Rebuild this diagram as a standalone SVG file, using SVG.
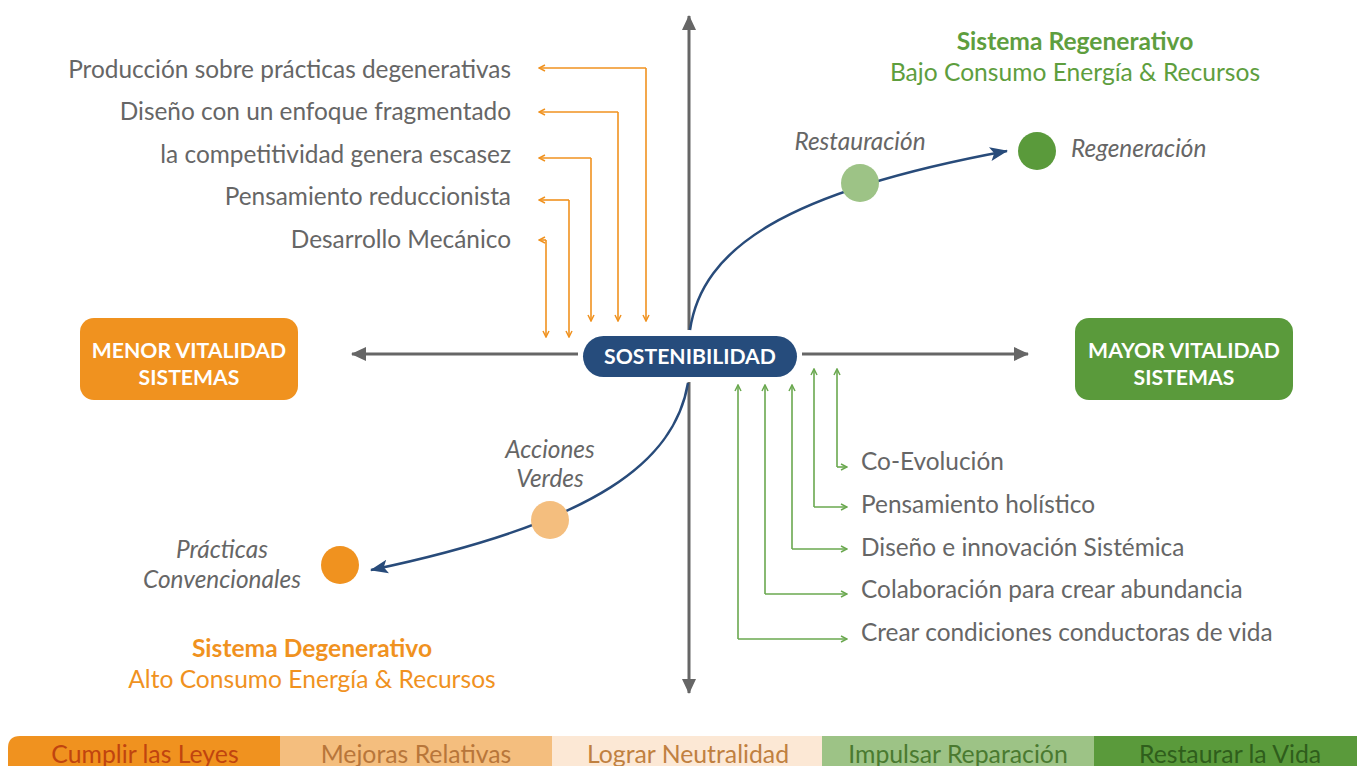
<svg xmlns="http://www.w3.org/2000/svg" width="1357" height="766" viewBox="0 0 1357 766">
<style>
.t{font-family:Lato,"Open Sans","Liberation Sans",sans-serif;font-size:24.4px;fill:#666}
.i{font-style:italic}
.b{font-weight:bold}
.w{fill:#fff;font-weight:bold;font-size:21.2px}
.ax{stroke:#666;stroke-width:3;fill:none}
.oc{stroke:#F0921F;stroke-width:1.6;fill:none}
.gc{stroke:#6AA84F;stroke-width:1.6;fill:none}
.cv{stroke:#284B7A;stroke-width:2.5;fill:none}
.bar{font-family:Lato,"Open Sans","Liberation Sans",sans-serif;font-size:24.8px;text-anchor:middle}
.tg{fill:#5E9E3E;font-size:24.6px}
.to{fill:#F0921F;font-size:24.6px}
</style>
<defs>
<marker id="ax" markerUnits="userSpaceOnUse" markerWidth="16" markerHeight="14" refX="14" refY="7" orient="auto"><path d="M0,0 L15,7 L0,14 Z" fill="#666"/></marker>
<marker id="oa" markerUnits="userSpaceOnUse" markerWidth="8" markerHeight="8" refX="7" refY="4" orient="auto"><path d="M1,1 L7,4 L1,7" fill="none" stroke="#F0921F" stroke-width="1.5"/></marker>
<marker id="ga" markerUnits="userSpaceOnUse" markerWidth="8" markerHeight="8" refX="7" refY="4" orient="auto"><path d="M1,1 L7,4 L1,7" fill="none" stroke="#6AA84F" stroke-width="1.5"/></marker>
<marker id="ba" markerUnits="userSpaceOnUse" markerWidth="20" markerHeight="16" refX="17" refY="8" orient="auto"><path d="M0,1 L18,8 L0,15 L4,8 Z" fill="#284B7A"/></marker>
</defs>
<g id="connectors">
<line class="ax" x1="689" y1="330" x2="689" y2="16" marker-end="url(#ax)"/>
<line class="ax" x1="689" y1="382" x2="689" y2="693" marker-end="url(#ax)"/>
<line class="ax" x1="578" y1="354" x2="352" y2="354" marker-end="url(#ax)"/>
<line class="ax" x1="802" y1="354" x2="1028" y2="354" marker-end="url(#ax)"/>
<path class="oc" d="M646,68 V321" marker-end="url(#oa)"/>
<path class="oc" d="M646,68 H539" marker-end="url(#oa)"/>
<path class="oc" d="M618,112 V321" marker-end="url(#oa)"/>
<path class="oc" d="M618,112 H539" marker-end="url(#oa)"/>
<path class="oc" d="M591,158 V321" marker-end="url(#oa)"/>
<path class="oc" d="M591,158 H539" marker-end="url(#oa)"/>
<path class="oc" d="M569,200 V337" marker-end="url(#oa)"/>
<path class="oc" d="M569,200 H539" marker-end="url(#oa)"/>
<path class="oc" d="M546,240 V337" marker-end="url(#oa)"/>
<path class="oc" d="M546,240 H539" marker-end="url(#oa)"/>
<path class="gc" d="M837,467 V369" marker-end="url(#ga)"/>
<path class="gc" d="M837,467 H847" marker-end="url(#ga)"/>
<path class="gc" d="M814,507 V369" marker-end="url(#ga)"/>
<path class="gc" d="M814,507 H847" marker-end="url(#ga)"/>
<path class="gc" d="M792,549 V385" marker-end="url(#ga)"/>
<path class="gc" d="M792,549 H847" marker-end="url(#ga)"/>
<path class="gc" d="M765,594 V385" marker-end="url(#ga)"/>
<path class="gc" d="M765,594 H847" marker-end="url(#ga)"/>
<path class="gc" d="M738,639 V385" marker-end="url(#ga)"/>
<path class="gc" d="M738,639 H847" marker-end="url(#ga)"/>
<path class="cv" d="M690,330 C702,248 785,192 1007,151" marker-end="url(#ba)"/>
<path class="cv" d="M688,383 C675,460 600,522 371,570" marker-end="url(#ba)"/>
</g>
<g id="sostenibilidad">
<rect x="583" y="336" width="214" height="41" rx="20.5" fill="#264C7C"/>
<text class="t w" x="690" y="364" text-anchor="middle">SOSTENIBILIDAD</text>
</g>
<g id="menor">
<rect x="80" y="318" width="218" height="82" rx="14" fill="#F0921F"/>
<text class="t w" x="189" y="358" text-anchor="middle">MENOR VITALIDAD</text>
<text class="t w" x="189" y="385" text-anchor="middle">SISTEMAS</text>
</g>
<g id="mayor">
<rect x="1075" y="318" width="218" height="82" rx="14" fill="#5A9A3B"/>
<text class="t w" x="1184" y="358" text-anchor="middle">MAYOR VITALIDAD</text>
<text class="t w" x="1184" y="385" text-anchor="middle">SISTEMAS</text>
</g>
<g id="left-list">
<text class="t" x="511" y="78" text-anchor="end">Producción sobre prácticas degenerativas</text>
<text class="t" x="511" y="120" text-anchor="end">Diseño con un enfoque fragmentado</text>
<text class="t" x="511" y="163" text-anchor="end">la competitividad genera escasez</text>
<text class="t" x="511" y="205" text-anchor="end">Pensamiento reduccionista</text>
<text class="t" x="511" y="248" text-anchor="end">Desarrollo Mecánico</text>
</g>
<g id="right-list">
<text class="t" x="861" y="470">Co-Evolución</text>
<text class="t" x="861" y="513">Pensamiento holístico</text>
<text class="t" x="861" y="556">Diseño e innovación Sistémica</text>
<text class="t" x="861" y="598">Colaboración para crear abundancia</text>
<text class="t" x="861" y="641">Crear condiciones conductoras de vida</text>
</g>
<g id="regenerativo">
<text class="t b tg" x="1075" y="50" text-anchor="middle">Sistema Regenerativo</text>
<text class="t tg" x="1075" y="81" text-anchor="middle">Bajo Consumo Energía &amp; Recursos</text>
</g>
<g id="degenerativo">
<text class="t b to" x="312" y="657" text-anchor="middle">Sistema Degenerativo</text>
<text class="t to" x="312" y="688" text-anchor="middle">Alto Consumo Energía &amp; Recursos</text>
</g>
<g id="restauracion">
<circle cx="860" cy="183" r="19" fill="#9DC386"/>
<text class="t i" x="860" y="150" text-anchor="middle">Restauración</text>
</g>
<g id="regeneracion">
<circle cx="1037" cy="151" r="19" fill="#5A9A3B"/>
<text class="t i" x="1071" y="157">Regeneración</text>
</g>
<g id="acciones-verdes">
<circle cx="550" cy="520" r="19" fill="#F4BE7E"/>
<text class="t i" x="550" y="458" text-anchor="middle">Acciones</text>
<text class="t i" x="550" y="487" text-anchor="middle">Verdes</text>
</g>
<g id="practicas">
<circle cx="340" cy="565" r="19" fill="#F0921F"/>
<text class="t i" x="222" y="558" text-anchor="middle">Prácticas</text>
<text class="t i" x="222" y="588" text-anchor="middle">Convencionales</text>
</g>
<g id="bar">
<path d="M20,736 H280 V766 H8 V748 Q8,736 20,736 Z" fill="#F0921F"/>
<rect x="280" y="736" width="272" height="30" fill="#F4BE7E"/>
<rect x="552" y="736" width="270" height="30" fill="#FCE8D5"/>
<rect x="822" y="736" width="272" height="30" fill="#9DC386"/>
<rect x="1094" y="736" width="263" height="30" fill="#5A9A3B"/>
<text class="bar" x="145" y="763" fill="#C0440F">Cumplir las Leyes</text>
<text class="bar" x="416" y="763" fill="#B8763A">Mejoras Relativas</text>
<text class="bar" x="688" y="763" fill="#C08040">Lograr Neutralidad</text>
<text class="bar" x="958" y="763" fill="#4A7A30">Impulsar Reparación</text>
<text class="bar" x="1230" y="763" fill="#2F5E1C">Restaurar la Vida</text>
</g>
</svg>
